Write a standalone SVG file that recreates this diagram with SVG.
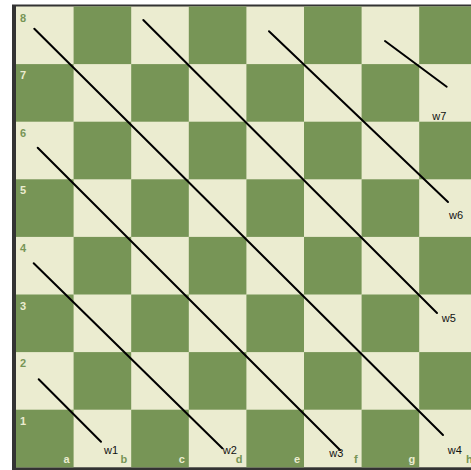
<svg xmlns="http://www.w3.org/2000/svg" width="471" height="470" viewBox="0 0 471 470">
  <style>
    .d { fill: #779556; }
    .coord { font-family: "Liberation Sans", Arial, sans-serif; font-size: 11px; font-weight: bold; }
    .cg { fill: #779556; }
    .cl { fill: #ebecd0; }
    .edge { stroke: #000; stroke-width: 2; stroke-linecap: round; fill: none; }
    .lbl { font-family: "Liberation Sans", Arial, sans-serif; font-size: 11px; fill: #111; }
  </style>
  <defs>
    <rect id="sq" width="57.6" height="57.6"/>
  </defs>
  <rect x="0" y="0" width="471" height="470" fill="#ffffff"/>
  <rect x="12" y="4.5" width="470" height="466" fill="#333333"/>
  <g id="board">
    <rect x="16" y="6.5" width="460.8" height="460.8" fill="#ebecd0"/>
    <g class="d">
      <use href="#sq" x="73.6" y="6.5"/><use href="#sq" x="188.8" y="6.5"/><use href="#sq" x="304" y="6.5"/><use href="#sq" x="419.2" y="6.5"/>
      <use href="#sq" x="16" y="64.1"/><use href="#sq" x="131.2" y="64.1"/><use href="#sq" x="246.4" y="64.1"/><use href="#sq" x="361.6" y="64.1"/>
      <use href="#sq" x="73.6" y="121.7"/><use href="#sq" x="188.8" y="121.7"/><use href="#sq" x="304" y="121.7"/><use href="#sq" x="419.2" y="121.7"/>
      <use href="#sq" x="16" y="179.3"/><use href="#sq" x="131.2" y="179.3"/><use href="#sq" x="246.4" y="179.3"/><use href="#sq" x="361.6" y="179.3"/>
      <use href="#sq" x="73.6" y="236.9"/><use href="#sq" x="188.8" y="236.9"/><use href="#sq" x="304" y="236.9"/><use href="#sq" x="419.2" y="236.9"/>
      <use href="#sq" x="16" y="294.5"/><use href="#sq" x="131.2" y="294.5"/><use href="#sq" x="246.4" y="294.5"/><use href="#sq" x="361.6" y="294.5"/>
      <use href="#sq" x="73.6" y="352.1"/><use href="#sq" x="188.8" y="352.1"/><use href="#sq" x="304" y="352.1"/><use href="#sq" x="419.2" y="352.1"/>
      <use href="#sq" x="16" y="409.7"/><use href="#sq" x="131.2" y="409.7"/><use href="#sq" x="246.4" y="409.7"/><use href="#sq" x="361.6" y="409.7"/>
    </g>
  </g>
  <g id="ranks" class="coord">
    <text x="20" y="21.5" class="cg">8</text>
    <text x="20" y="79.1" class="cl">7</text>
    <text x="20" y="136.7" class="cg">6</text>
    <text x="20" y="194.3" class="cl">5</text>
    <text x="20" y="251.9" class="cg">4</text>
    <text x="20" y="309.5" class="cl">3</text>
    <text x="20" y="367.1" class="cg">2</text>
    <text x="20" y="424.7" class="cl">1</text>
  </g>
  <g id="files" class="coord" text-anchor="end">
    <text x="69.6" y="463" class="cl">a</text>
    <text x="127.2" y="463" class="cg">b</text>
    <text x="184.8" y="463" class="cl">c</text>
    <text x="242.4" y="463" class="cg">d</text>
    <text x="300" y="463" class="cl">e</text>
    <text x="357.6" y="463" class="cg">f</text>
    <text x="415.2" y="463" class="cl">g</text>
    <text x="472.8" y="463" class="cg">h</text>
  </g>
  <g id="connectors">
    <line class="edge" x1="38.7" y1="379.3" x2="101" y2="441.7"/>
    <line class="edge" x1="33.7" y1="263.3" x2="222.3" y2="448.3"/>
    <line class="edge" x1="37.7" y1="147.7" x2="340" y2="450"/>
    <line class="edge" x1="34.3" y1="28.7" x2="443" y2="435"/>
    <line class="edge" x1="143.3" y1="20" x2="437" y2="313"/>
    <line class="edge" x1="269" y1="31.3" x2="448" y2="202"/>
    <line class="edge" x1="385" y1="41" x2="446.7" y2="86.7"/>
  </g>
  <g id="w1"><text class="lbl" x="104" y="454">w1</text></g>
  <g id="w2"><text class="lbl" x="222.7" y="454">w2</text></g>
  <g id="w3"><text class="lbl" x="329.3" y="457">w3</text></g>
  <g id="w4"><text class="lbl" x="447.7" y="454">w4</text></g>
  <g id="w5"><text class="lbl" x="441.7" y="322">w5</text></g>
  <g id="w6"><text class="lbl" x="449" y="219">w6</text></g>
  <g id="w7"><text class="lbl" x="432.3" y="120">w7</text></g>
</svg>
